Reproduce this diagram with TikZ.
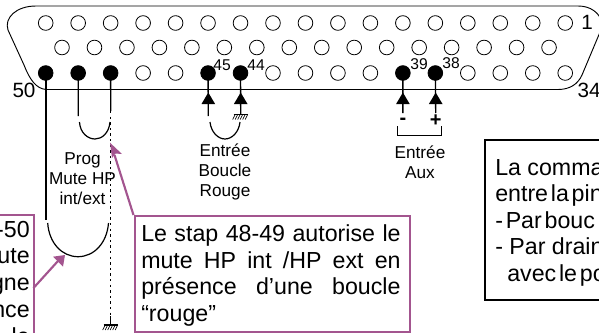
\documentclass[tikz,border=0pt]{standalone}
\usepackage{fontspec}
\setmainfont{Liberation Sans}
\definecolor{plum}{HTML}{A3558F}
\newcommand{\gnd}[2]{%
  \draw[line width=0.8pt] (#1-7,#2) -- (#1+7,#2);
  \foreach \k in {-5.5,-3,-0.5,2,4.5,7} \draw[line width=0.5pt] (#1+\k,#2) -- (#1+\k-2.5,#2+5);}
\newcommand{\tightwords}{\spaceskip=0.12em\relax}
\tikzset{
  x=0.75pt,y=-0.75pt,
  pinopen/.style={circle,draw,line width=0.6pt,inner sep=0,minimum size=11pt,fill=white},
  pinfull/.style={circle,draw,fill=black,line width=0.6pt,inner sep=0,minimum size=11pt},
  wire/.style={line width=1pt},
  dotwire/.style={line width=0.9pt,dash pattern=on 1.8pt off 2.4pt},
  strap/.style={line width=0.9pt},
  tip/.style={fill=black,draw=none},
  small/.style={inner sep=0,font=\fontsize{12.9pt}{15pt}\selectfont,align=center},
  num/.style={inner sep=0,font=\fontsize{11.7pt}{13pt}\selectfont},
  pinnum/.style={inner sep=0,font=\fontsize{15.5pt}{17pt}\selectfont},
  sign/.style={inner sep=0,font=\fontsize{15pt}{16pt}\bfseries\selectfont},
  big/.style={inner sep=0,font=\fontsize{17.4pt}{20pt}\selectfont},
  plumbox/.style={draw=plum,line width=1.5pt},
  plumarrow/.style={draw=plum,line width=1.6pt},
  plumhead/.style={fill=plum,draw=none},
}
\begin{document}
\begin{tikzpicture}
\useasboundingbox (0,0) rectangle (599,332);
\clip (0,0) rectangle (599,332);
% shell
\draw[line width=0.7pt] (36,6) -- (578,6) .. controls (590,6) and (600,12) .. (603,25) -- (582,75) .. controls (578,84) and (570,89.5) .. (558,89.5) -- (46,89.5) .. controls (36,88.5) and (30,80) .. (24,65) -- (8,30) .. controls (4,18) and (16,6) .. (36,6) -- cycle;
% pins
\foreach \i in {0,...,16} \node[pinopen] (a\i) at (45.7+32.47*\i,23) {};
\foreach \i in {0,...,15} \node[pinopen] (b\i) at (62+32.47*\i,47.5) {};
\foreach \i in {3,4,7,8,9,10,13,14,15,16} \node[pinopen] (c\i) at (45.7+32.47*\i,73) {};
\foreach \i in {0,1,2,5,6,11,12} \node[pinfull] (c\i) at (45.7+32.47*\i,73) {};
% wires
\coordinate (w0) at (45.7,220);
\coordinate (w1) at (78.3,116);
\coordinate (w2) at (110.7,111);
\coordinate (w3) at (110.7,316);
\coordinate (w4) at (110.7,325);
\draw[line width=1.2pt] (c0.center) -- (w0);
\draw[wire] (c1.center) -- (w1);
\draw[wire] (c2.center) -- (w2);
\draw[dotwire] (w2) -- (w3);
\draw[wire] (w3) -- (w4);
\gnd{110.7}{325}
\draw[strap] (79.5,122) .. controls (80,133) and (88,139) .. (95,139) .. controls (102,139) and (109,133) .. (110,122);
\draw[strap] (47.7,223) .. controls (49,243) and (62,256.7) .. (78,256.7) .. controls (94,256.7) and (107,243) .. (108.5,223);
% input wires
\foreach \n/\t/\e in {c5/208.3/116,c6/240.7/114.5,c11/402.9/113,c12/435.7/113}{
  \coordinate (e\n) at (\t,\e);
  \draw[wire] (\n.center) -- (e\n);
  \fill[tip] (\t,92.5) -- (\t+6.8,104) -- (\t-6.8,104) -- cycle;
}
\gnd{240.7}{114.5}
\draw[strap] (210,122) .. controls (211,132) and (218,139) .. (225,139) .. controls (232,139) and (239,132) .. (240,122);
% aux bracket
\draw[line width=0.7pt] (397,126) -- (397,135.5) -- (441.5,135.5) -- (441.5,126);
\node[sign] (m) at (403,121) {-};
\node[sign] (p) at (435.7,120.5) {+};
% numbers
\node[pinnum] (n1) at (587,22) {1};
\node[pinnum] (n50) at (24,90) {50};
\node[pinnum] (n34) at (589,90.5) {34};
\node[num] (n45) at (222,65) {45};
\node[num] (n44) at (256,65) {44};
\node[num] (n39) at (419,64.5) {39};
\node[num] (n38) at (451,63.5) {38};
% labels
\node[small] (prog) at (82.5,178.5) {Prog\\Mute HP\\int/ext};
\node[small] (boucle) at (225,172) {Entrée\\Boucle\\Rouge};
\node[small] (aux) at (420,162) {Entrée\\Aux};
% left purple box
\draw[plumbox,fill=white] (-10,215) rectangle (33.5,345);
\node[big,anchor=base east] (l1) at (30,237) {-50};
\node[big,anchor=base east] (l2) at (30,263) {ute};
\node[big,anchor=base east] (l3) at (30,290) {gne};
\node[big,anchor=base east] (l4) at (30,317) {nce};
\node[big,anchor=base east] (l5) at (30,344) {le};
% middle purple box
\node[plumbox,fill=white,inner sep=0,anchor=north west,minimum height=87pt,minimum width=206.3pt] (mid) at (133.5,215) {};
\node[big,anchor=base west] (t1) at (141,241) {\makebox[194.5pt][s]{Le stap 48-49 autorise le}};
\node[big,anchor=base west] (t2) at (141,268) {\makebox[194.5pt][s]{mute HP int /HP ext en}};
\node[big,anchor=base west] (t3) at (141,294) {\makebox[194.5pt][s]{présence d’une boucle}};
\node[big,anchor=base west] (t4) at (141,321) {“rouge”};
% black box
\draw[line width=2pt] (610,140) -- (485,140) -- (485,300) -- (610,300);
\node[big,anchor=base west] (b1) at (495,175) {La comma};
\node[big,anchor=base west] (b2) at (495,201) {\tightwords entre la pin};
\node[big,anchor=base west] (b3) at (495,228) {\tightwords - Par bouc};
\node[big,anchor=base west] (b4) at (495,254.5) {- Par drain};
\node[big,anchor=base west] (b5) at (507,281) {\tightwords avec le po};
% callout arrows
\coordinate (h1) at (114.5,155);
\draw[plumarrow] (mid.north west) -- (h1);
\fill[plumhead] (110,142.7) -- (122,154) -- (115.5,153.5) -- (112,158) -- cycle;
\coordinate (h2) at (58,261);
\draw[plumarrow] (33.5,288) -- (h2);
\fill[plumhead] (65,255) -- (63,266.7) -- (53,256.7) -- cycle;
\end{tikzpicture}
\end{document}
